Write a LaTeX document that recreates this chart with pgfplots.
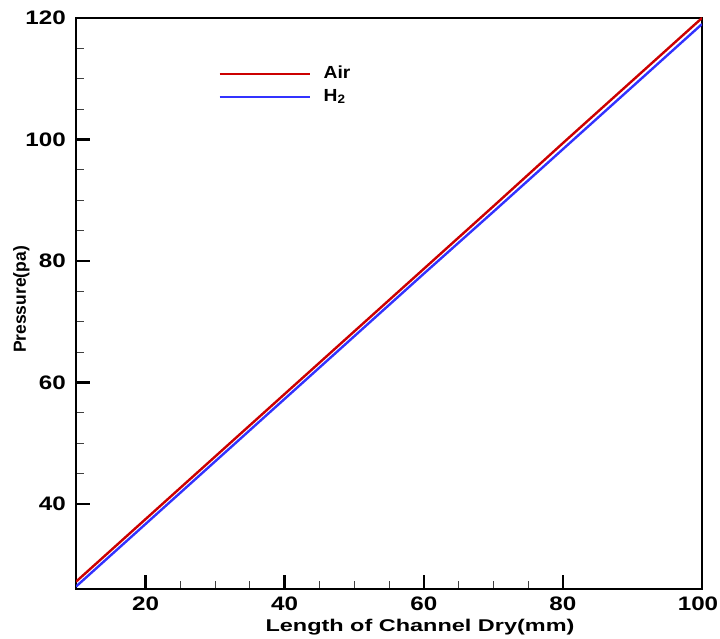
\documentclass[border=0pt]{standalone}
\usepackage{fontspec}
\setmainfont{Liberation Sans}
\newfontfamily\widefont{Liberation Sans}[FakeStretch=1.24]
\newfontfamily\labfont{Liberation Sans}[FakeStretch=1.38]
\newfontfamily\legfont{Liberation Sans}[FakeStretch=1.1]
\usepackage{pgfplots}
\pgfplotsset{compat=1.18}
\usetikzlibrary{calc}
\definecolor{airred}{RGB}{204,0,0}
\definecolor{hblue}{RGB}{50,50,255}
\begin{document}
\begin{tikzpicture}
\begin{axis}[name=ax, scale only axis, width=626pt, height=571pt,
  xmin=10, xmax=100, ymin=26, ymax=120,
  xtick={20,40,60,80}, ytick={40,60,80,100,120},
  extra x ticks={100},
  extra x tick style={xticklabel style={xshift=-4pt}},
  minor x tick num=3, minor y tick num=3,
  tick pos=left, tick align=inside,
  major tick length=14pt, minor tick length=8pt,
  major tick style={line width=2.4pt, black},
  minor tick style={line width=0.8pt, black!75},
  axis line style={line width=2.8pt},
  /pgf/number format/assume math mode=true,
  ticklabel style={font=\widefont\bfseries\fontsize{19.5}{22}\selectfont, inner sep=0pt},
  xticklabel style={yshift=-8pt},
  yticklabel style={xshift=-10pt},
  xlabel={Length of Channel Dry(mm)},
  xlabel style={font=\labfont\bfseries\fontsize{17}{20}\selectfont, inner sep=0pt,
    at={(axis description cs:0.5,0)}, anchor=north, xshift=31pt, yshift=-30pt},
  ylabel={Pressure(pa)},
  ylabel style={font=\bfseries\fontsize{17.5}{20}\selectfont, inner sep=0pt,
    at={(axis description cs:0,0.5)}, anchor=north, xshift=4pt, yshift=63pt},
  legend image code/.code={\draw[#1] (0pt,0pt) -- (90pt,0pt);},
  legend style={at={(rel axis cs:0.227,0.916)}, anchor=north west, draw=none, fill=none,
    inner sep=0pt, row sep=7pt, column sep=13pt,
    font=\legfont\bfseries\fontsize{17.5}{20}\selectfont,
    nodes={inner sep=0pt, text height=12pt, text depth=4pt}},
  legend cell align=left,
]
\addplot[airred, line width=2.4pt] coordinates {
(10,27.2) (20,37.5) (30,47.8) (40,58.1) (50,68.4) (60,78.7) (70,89.0) (80,99.4) (90,109.7) (100,120.0)};
\addlegendentry{Air}
\addplot[hblue, line width=2.4pt] coordinates {
(10,26.4) (20,36.7) (30,47.0) (40,57.3) (50,67.6) (60,77.9) (70,88.1) (80,98.4) (90,108.7) (100,119.0)};
\addlegendentry{H\textsubscript{2}}
\end{axis}
\pgfresetboundingbox
\path ($(ax.south west)+(-76pt,-50pt)$) rectangle ($(ax.north east)+(18pt,18pt)$);
\end{tikzpicture}
\end{document}
